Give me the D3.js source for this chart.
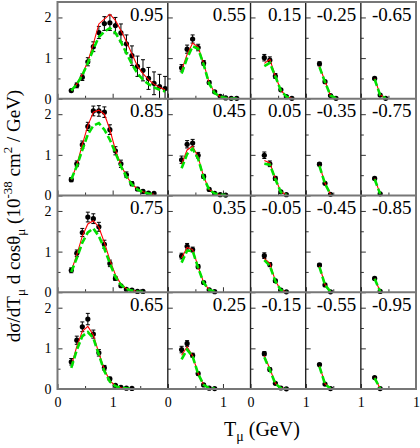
<!DOCTYPE html>
<html><head><meta charset="utf-8">
<script src="https://cdn.jsdelivr.net/npm/d3@7"></script>
<style>body{margin:0;background:#fff}svg{display:block}svg text{font-family:'Liberation Serif',Tinos,'Times New Roman',serif !important;fill:#000}</style>
</head><body>
<svg id="c" width="420" height="448" font-family="Liberation Serif, serif"></svg>
<script>
// ---- data ----
const tmu = [0.25,0.35,0.45,0.55,0.65,0.75,0.85,0.95,1.05,1.15,1.25,1.35,1.45,1.55,1.65,1.75,1.85,1.95];
const cosLabels = [
  ["0.95","0.55","0.15","-0.25","-0.65"],
  ["0.85","0.45","0.05","-0.35","-0.75"],
  ["0.75","0.35","-0.05","-0.45","-0.85"],
  ["0.65","0.25","-0.15","-0.55","-0.95"]
];
const colMaxT = [2, 1.5, 1, 1, 1];
const yTickLabels = ["0","1","2"];
const xTickLabels = [["0","1"],["0","1"],["0","1"],["1"],["1"]];

// measured cross sections, per panel (row-major)
const measured = [
  [0.2,0.33,0.53,0.91,1.28,1.63,1.85,1.87,1.8,1.62,1.35,1.06,0.8,0.7,0.5,0.38,0.3,0.25],
  [0.76,1.22,1.47,1.26,0.88,0.4,0.17,0.06,0.02,0.01,0.01],
  [1.01,0.95,0.56,0.22,0.05,0.01],
  [0.86,0.42,0.08,0.01],
  [0.5,0.09,0.01],
  [0.39,0.78,1.25,1.7,2.08,2.08,2.05,1.62,1.1,0.78,0.51,0.29,0.16,0.1,0.06,0.05],
  [0.88,1.26,1.29,0.99,0.47,0.15,0.05,0.02,0.01],
  [0.99,0.78,0.42,0.09,0.02],
  [0.77,0.3,0.03],
  [0.42,0.04],
  [0.54,0.96,1.47,1.85,1.81,1.61,1.18,0.71,0.34,0.16,0.07,0.05,0.02,0.02],
  [0.89,1.13,1.05,0.63,0.24,0.06,0.015],
  [0.9,0.68,0.28,0.05,0.01],
  [0.67,0.18,0.01],
  [0.34,0.02],
  [0.67,1.2,1.53,1.72,1.35,0.89,0.52,0.25,0.09,0.04,0.02,0.015],
  [0.97,1.12,0.83,0.38,0.1,0.02,0.01],
  [0.87,0.48,0.14,0.025,0.005],
  [0.6,0.12,0.01],
  [0.28,0.01]
];
const errors = [
  [0.03,0.06,0.08,0.1,0.12,0.15,0.17,0.19,0.2,0.22,0.22,0.24,0.25,0.26,0.27,0.28,0.3,0.3],
  [0.08,0.1,0.1,0.08,0.06,0.04,0.03,0.02,0.01,0.01,0.01],
  [0.08,0.08,0.06,0.03,0.02,0.01],
  [0.05,0.03,0.02,0.01],
  [0.03,0.02,0.01],
  [0.05,0.07,0.09,0.1,0.12,0.13,0.13,0.12,0.1,0.09,0.07,0.05,0.04,0.03,0.02,0.02],
  [0.09,0.09,0.09,0.07,0.05,0.03,0.02,0.01,0.01],
  [0.08,0.07,0.05,0.02,0.01],
  [0.04,0.03,0.01],
  [0.03,0.01],
  [0.06,0.08,0.1,0.12,0.12,0.11,0.1,0.08,0.05,0.03,0.02,0.02,0.01,0.01],
  [0.07,0.07,0.06,0.05,0.03,0.02,0.01],
  [0.07,0.05,0.04,0.02,0.01],
  [0.04,0.02,0.01],
  [0.03,0.01],
  [0.08,0.1,0.12,0.14,0.1,0.08,0.06,0.04,0.02,0.01,0.01,0.01],
  [0.08,0.07,0.05,0.04,0.02,0.01,0.01],
  [0.05,0.04,0.02,0.01,0.005],
  [0.03,0.02,0.01],
  [0.02,0.01]
];
const modelRed = [
  [0.2,0.36,0.6,0.92,1.35,1.84,1.96,2.08,1.93,1.68,1.4,1.1,0.8,0.62,0.47,0.36,0.28,0.22],
  [0.7,1.09,1.37,1.27,0.87,0.39,0.15,0.05,0.02,0.01,0.005],
  [0.87,0.97,0.56,0.21,0.05,0.01],
  [0.8,0.43,0.08,0.01],
  [0.5,0.1,0.01],
  [0.39,0.75,1.25,1.72,2.05,2.1,2.0,1.62,1.12,0.75,0.48,0.28,0.16,0.09,0.05,0.03],
  [0.77,1.12,1.21,0.95,0.46,0.15,0.05,0.02,0.01],
  [0.86,0.8,0.42,0.09,0.02],
  [0.74,0.3,0.03],
  [0.42,0.04],
  [0.53,0.92,1.38,1.68,1.76,1.6,1.22,0.79,0.43,0.2,0.09,0.04,0.02,0.01],
  [0.84,1.1,1.05,0.63,0.24,0.06,0.01],
  [0.83,0.71,0.28,0.05,0.01],
  [0.64,0.19,0.01],
  [0.34,0.02],
  [0.57,1.05,1.42,1.54,1.33,0.88,0.48,0.2,0.08,0.03,0.015,0.01],
  [0.83,1.04,0.81,0.38,0.1,0.02,0.01],
  [0.82,0.5,0.14,0.025,0.005],
  [0.57,0.13,0.01],
  [0.28,0.01]
];
const modelGreen = [
  [0.2,0.36,0.58,0.88,1.22,1.52,1.65,1.74,1.62,1.4,1.12,0.85,0.62,0.47,0.36,0.28,0.22,0.18],
  [0.62,1.0,1.29,1.23,0.84,0.37,0.14,0.05,0.02,0.01,0.005],
  [0.8,0.88,0.55,0.2,0.05,0.01],
  [0.78,0.41,0.08,0.01],
  [0.48,0.09,0.01],
  [0.4,0.72,1.12,1.5,1.72,1.78,1.62,1.37,1.05,0.72,0.46,0.27,0.15,0.08,0.05,0.03],
  [0.67,1.02,1.15,0.9,0.44,0.14,0.05,0.02,0.01],
  [0.78,0.76,0.4,0.08,0.02],
  [0.72,0.29,0.03],
  [0.4,0.04],
  [0.5,0.84,1.22,1.47,1.57,1.38,1.07,0.71,0.38,0.18,0.08,0.04,0.02,0.01],
  [0.73,1.02,1.02,0.6,0.23,0.06,0.01],
  [0.79,0.65,0.27,0.05,0.01],
  [0.62,0.18,0.01],
  [0.33,0.02],
  [0.52,0.96,1.3,1.4,1.25,0.84,0.44,0.18,0.07,0.03,0.015,0.01],
  [0.73,0.97,0.8,0.37,0.1,0.02,0.01],
  [0.78,0.47,0.13,0.02,0.005],
  [0.55,0.12,0.01],
  [0.27,0.01]
];

// ---- layout ----
const FONT = "'Liberation Serif', Tinos, 'Times New Roman', serif";
const svg = d3.select("#c");
const L = 57.5, R = 416, T0 = 2, B0 = 389;
const nRows = 4, nCols = 5;
const totalT = d3.sum(colMaxT);
const unit = (R - L) / totalT;
const colLeft = colMaxT.map((d, i) => L + unit * d3.sum(colMaxT.slice(0, i)));
const rowH = (B0 - T0) / nRows;
const yMax = 2.38;

const gPlots = svg.append("g");
for (let r = 0; r < nRows; r++) {
  const top = T0 + r * rowH, bot = top + rowH;
  const y = d3.scaleLinear().domain([0, yMax]).range([bot, top]);
  for (let c = 0; c < nCols; c++) {
    const idx = r * nCols + c;
    const x = d3.scaleLinear().domain([0, colMaxT[c]]).range([colLeft[c], colLeft[c] + unit * colMaxT[c]]);
    const g = gPlots.append("g");
    // ticks
    const yMajor = d3.axisLeft(y).tickValues([0,1,2]).tickSize(-5).tickPadding(6)
      .tickFormat(c === 0 ? (d => yTickLabels[d]) : () => "");
    const ya = g.append("g").attr("transform", `translate(${colLeft[c]},0)`).call(yMajor);
    const yMinor = d3.axisLeft(y).tickValues([0.5,1.5]).tickSize(-3).tickFormat(() => "");
    const ym = g.append("g").attr("transform", `translate(${colLeft[c]},0)`).call(yMinor);
    [ya, ym].forEach(a => { a.attr("font-family", FONT); a.select(".domain").remove(); a.selectAll("line").attr("stroke", "#333").attr("stroke-width", 1); a.selectAll("text").style("font-size", "14px").style("font-family", FONT); });
    const xMajorVals = d3.range(0, colMaxT[c] + 0.001, 1);
    const xMinorVals = d3.range(0.5, colMaxT[c], 1);
    const xa = g.append("g").attr("transform", `translate(0,${bot})`)
      .call(d3.axisBottom(x).tickValues(xMajorVals).tickSize(-5).tickFormat(() => ""));
    const xm = g.append("g").attr("transform", `translate(0,${bot})`)
      .call(d3.axisBottom(x).tickValues(xMinorVals).tickSize(-3).tickFormat(() => ""));
    [xa, xm].forEach(a => { a.select(".domain").remove(); a.selectAll("line").attr("stroke", "#333").attr("stroke-width", 1); });
    if (r === nRows - 1) {
      const xl = g.append("g").attr("transform", `translate(0,${bot})`)
        .call(d3.axisBottom(x).tickValues(xTickLabels[c].map(Number)).tickSize(0).tickPadding(8).tickFormat(d => String(d)));
      xl.attr("font-family", FONT);
      xl.select(".domain").remove();
      xl.selectAll("text").style("font-size", "14px").style("font-family", FONT);
    }

    const vals = measured[idx];
    const pts = vals.map((v, i) => ({ t: tmu[i], v, e: errors[idx][i], red: modelRed[idx][i], green: modelGreen[idx][i] }));
    // error bars
    const eb = g.append("g").attr("stroke", "#000").attr("stroke-width", 1);
    pts.forEach(p => {
      const xp = x(p.t), y1 = y(Math.max(0, p.v - p.e)), y2 = y(p.v + p.e);
      eb.append("line").attr("x1", xp).attr("x2", xp).attr("y1", y1).attr("y2", y2);
      eb.append("line").attr("x1", xp - 2).attr("x2", xp + 2).attr("y1", y1).attr("y2", y1);
      eb.append("line").attr("x1", xp - 2).attr("x2", xp + 2).attr("y1", y2).attr("y2", y2);
    });
    g.append("g").selectAll("circle").data(pts).join("circle")
      .attr("cx", p => x(p.t)).attr("cy", p => y(p.v)).attr("r", 2.6).attr("fill", "#000");
    const lineR = d3.line().x(p => x(p.t)).y(p => y(p.red));
    const lineG = d3.line().x(p => x(p.t)).y(p => y(p.green));
    g.append("path").datum(pts).attr("d", lineR).attr("fill", "none").attr("stroke", "#ff0000").attr("stroke-width", 1.1);
    g.append("path").datum(pts).attr("d", lineG).attr("fill", "none").attr("stroke", "#00e000").attr("stroke-width", 2.6).attr("stroke-dasharray", "7,3");
    // label
    g.append("text").attr("x", colLeft[c] + unit * colMaxT[c] - 4.5).attr("y", top + 18.7)
      .attr("text-anchor", "end").style("font-family", FONT).style("font-size", "19px").text(cosLabels[r][c]);
  }
}
// frame
const fr = svg.append("g");
for (let c = 1; c < nCols; c++) {
  fr.append("line").attr("x1", colLeft[c]).attr("x2", colLeft[c]).attr("y1", T0).attr("y2", B0)
    .attr("stroke", "#222").attr("stroke-width", 1.4);
}
for (let r = 1; r < nRows; r++) {
  fr.append("line").attr("x1", L).attr("x2", R).attr("y1", T0 + r * rowH).attr("y2", T0 + r * rowH)
    .attr("stroke", "#777").attr("stroke-width", 2);
}
fr.append("rect").attr("x", L).attr("y", T0).attr("width", R - L).attr("height", B0 - T0)
  .attr("fill", "none").attr("stroke", "#777").attr("stroke-width", 2);

// axis titles
const xt = svg.append("text").attr("x", 224).attr("y", 436).style("font-family", FONT).style("font-size", "20px");
xt.append("tspan").text("T");
xt.append("tspan").attr("dy", 5).style("font-size", "14px").text("μ");
xt.append("tspan").attr("dy", -5).text(" (GeV)");

const yt = svg.append("text").attr("transform", "translate(19.5,216) rotate(-90)").attr("text-anchor", "middle")
  .style("font-family", FONT).style("font-size", "19px");
yt.append("tspan").text("dσ/dT");
yt.append("tspan").attr("dy", 5).style("font-size", "13px").text("μ");
yt.append("tspan").attr("dy", -5).text(" d cosθ");
yt.append("tspan").attr("dy", 5).style("font-size", "13px").text("μ");
yt.append("tspan").attr("dy", -5).text(" (10");
yt.append("tspan").attr("dy", -8).style("font-size", "13px").text("-38");
yt.append("tspan").attr("dy", 8).text(" cm");
yt.append("tspan").attr("dy", -8).style("font-size", "13px").text("2");
yt.append("tspan").attr("dy", 8).text(" / GeV)");
</script>
</body></html>
